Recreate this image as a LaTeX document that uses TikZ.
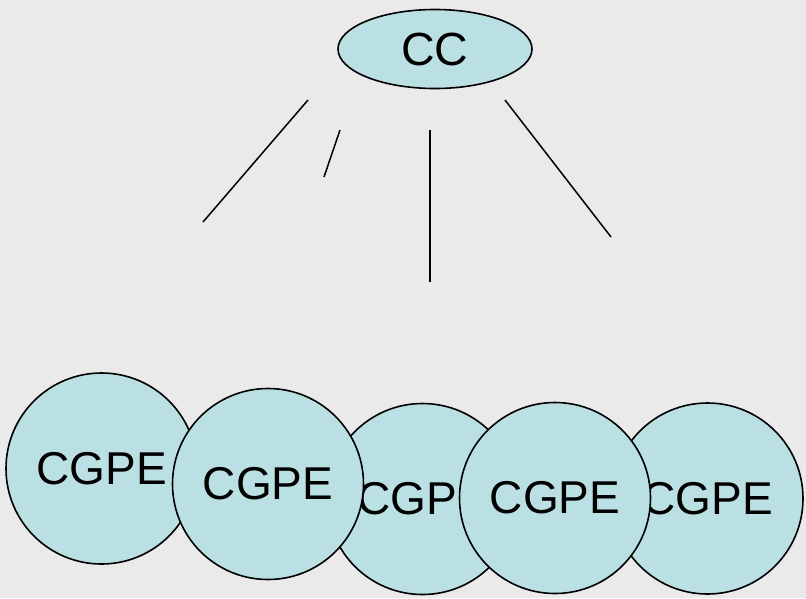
\documentclass[tikz,border=0pt]{standalone}
\usepackage{fontspec}
\setmainfont{Liberation Sans}
\definecolor{bg}{HTML}{EAEAEA}
\definecolor{tealfill}{HTML}{BBE0E3}
\tikzset{
  unit/.style={circle, draw=black, line width=1.6pt, fill=tealfill,
    minimum size=191pt, inner sep=0pt, font=\fontsize{46}{50}\selectfont},
  head/.style={ellipse, draw=black, line width=1.6pt, fill=tealfill,
    minimum width=194pt, minimum height=79pt, inner sep=0pt,
    font=\fontsize{46.5}{50}\selectfont},
  link/.style={line width=1.5pt, black}
}
\usetikzlibrary{shapes.geometric}
\begin{document}
\begin{tikzpicture}[x=1pt, y=-1pt]
  \fill[bg] (0,0) rectangle (806,598);
  \useasboundingbox (0,0) rectangle (806,598);

  % controller
  \node[head] (cc) at (435,49) {CC};

  % loose links under the controller
  \coordinate (a1) at (308,100); \coordinate (a2) at (203,222);
  \coordinate (b1) at (340,130); \coordinate (b2) at (324,177);
  \coordinate (c1) at (430,130); \coordinate (c2) at (430,282);
  \coordinate (d1) at (505,100); \coordinate (d2) at (611,237);
  \draw[link] (a1) -- (a2);
  \draw[link] (b1) -- (b2);
  \draw[link] (c1) -- (c2);
  \draw[link] (d1) -- (d2);

  % group units, back to front
  \node[unit] (g1) at (101.5,468.5) {CGPE};
  \node[unit] (g3) at (422.5,499) {CGPE};
  \node[unit] (g5) at (707.5,498.5) {CGPE};
  \node[unit] (g2) at (268,484) {CGPE};
  \node[unit] (g4) at (555,498) {CGPE};
\end{tikzpicture}
\end{document}
